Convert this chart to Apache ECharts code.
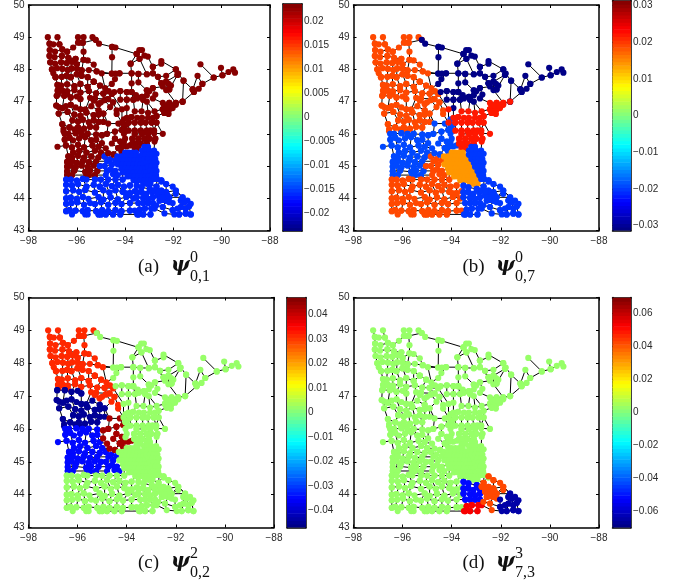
<!DOCTYPE html>
<html><head><meta charset="utf-8">
<style>html,body{margin:0;padding:0;background:#fff}#c{width:677px;height:588px}</style>
<script src="https://cdn.jsdelivr.net/npm/echarts@6/dist/echarts.min.js"></script>
</head><body><div id="c"></div>
<script>
// Road polylines: flat lon,lat lists, one list per road. Vertices are the network's nodes.
const nwRoads = [
[-97.2,49,-97.13,48.8,-97.12,48.6,-97.13,48.42,-97.1,48.22,-97.03,48,-96.97,47.88,-96.88,47.76],
[-96.8,49,-96.72,48.78,-96.6,48.62,-96.62,48.42,-96.65,48.22,-96.6,48.02,-96.62,47.77,-96.65,47.5,-96.6,47.34],
[-97.13,48.8,-96.97,48.78,-96.72,48.78],
[-97.12,48.6,-96.9,48.55,-96.6,48.62,-96.4,48.55,-96.15,48.68,-95.95,48.83,-95.95,49],
[-97.13,48.42,-96.92,48.38,-96.62,48.42,-96.35,48.36,-96.05,48.33],
[-97.1,48.22,-96.9,48.18,-96.65,48.22,-96.42,48.2,-96.2,48.24,-96,48.16,-95.72,48.3,-95.55,48.28,-95.3,48.15,-95.18,47.94,-94.97,47.88],
[-97.03,48,-96.82,48.04,-96.6,48.02,-96.38,47.98,-96.22,48.03,-96,48.02,-95.8,47.97,-95.5,47.98,-95.18,47.94],
[-96.88,47.76,-96.62,47.77,-96.42,47.8,-96.25,47.76,-96,47.85,-95.8,47.8,-95.55,47.76,-95.3,47.62],
[-96.42,47.8,-96.38,47.98,-96.42,48.2,-96.35,48.36,-96.4,48.55],
[-96.25,47.76,-96.22,48.03,-96.2,48.24,-96.05,48.33],
[-96,47.85,-96,48.16,-95.8,47.97],
[-95.8,47.8,-95.8,47.97,-95.72,48.3,-95.72,48.55,-95.75,48.83,-95.72,49],
[-95.35,49,-95.22,48.92,-95.75,48.83,-95.87,48.83],
[-96.8,47.52,-96.65,47.5,-96.4,47.54,-96.1,47.48,-95.85,47.55,-95.55,47.46,-95.3,47.62],
[-96.88,47.76,-96.8,47.52,-96.8,47.34,-96.78,47.24],
[-96.42,47.8,-96.4,47.54,-96.4,47.32,-96.4,47.24],
[-96.78,47.34,-96.6,47.34,-96.4,47.32,-96.1,47.36,-95.85,47.28,-95.5,47.33,-95.2,47.26,-94.9,47.25,-94.55,47.24],
[-96.25,47.76,-96.1,47.48,-96.1,47.36],
[-96,47.85,-95.85,47.55,-95.85,47.28],
[-95.55,47.76,-95.55,47.46,-95.5,47.33,-95.45,47.12],
[-95.3,47.62,-95.04,47.5,-94.83,47.42,-94.68,47.33,-94.55,47.24],
[-95.04,47.5,-95.2,47.26,-95.25,47.1,-95.3,47.03,-95.1,46.93,-95,46.98],
[-94.9,47.25,-94.7,47.08,-94.5,46.98,-94.35,46.73,-94.35,46.62],
[-94.7,47.08,-95.25,47.1],
[-94.85,47.05,-94.62,46.83,-94.5,46.98],
[-95.1,46.93,-94.85,47.05,-94.9,47.25]
];
const wnRoads = [
[-96.83,47.18,-96.85,46.88,-96.75,46.83,-96.75,46.63,-96.6,46.3,-96.55,46.15,-96.55,46.08],
[-96.83,47.18,-96.52,47.18,-96.25,47.13,-96,47.16,-95.85,47.08],
[-96.85,46.88,-96.6,46.8,-96.45,46.86,-96.25,46.9,-96.05,46.82,-95.85,46.76,-95.65,46.75,-95.4,46.86,-95.1,46.73],
[-96.75,46.63,-96.38,46.68,-96.1,46.6,-95.85,46.56,-95.6,46.66,-95.3,46.58,-95.1,46.6,-94.9,46.63],
[-96.52,47.18,-96.6,46.8,-96.38,46.68,-96.18,46.42,-96.3,46.2],
[-96.25,47.13,-96.25,46.9,-96.1,46.6,-95.95,46.38,-95.95,46.2],
[-95.85,47.08,-95.85,46.76,-95.85,46.56,-95.75,46.44,-95.7,46.16],
[-95.65,46.75,-95.6,46.66,-95.5,46.36,-95.45,46.22],
[-95.3,46.58,-95.3,46.42,-95.2,46.2],
[-95.1,46.73,-95.1,46.6,-95.1,46.37,-94.9,46.37,-94.9,46.63],
[-96.6,46.3,-96.3,46.2,-96.18,46.42,-95.95,46.38,-95.75,46.44,-95.5,46.36,-95.3,46.42,-95.1,46.37],
[-96.3,46.2,-96.1,46.14,-95.95,46.2,-95.9,46.08,-95.7,46.16,-95.45,46.22,-95.2,46.2]
];
const wbRoads = [
[-96.5,46,-96.35,46,-96.05,46.02,-95.8,46,-95.55,46,-95.2,45.98],
[-96.5,45.82,-96.3,45.88,-96.15,45.8,-95.9,45.86,-95.65,45.9,-95.4,45.8,-95.2,45.82],
[-96.8,45.6,-96.45,45.64,-96.2,45.58,-95.95,45.66,-95.7,45.58,-95.35,45.64,-95.1,45.6],
[-96.15,45.42,-95.9,45.47,-95.6,45.42,-95.25,45.48,-95,45.42],
[-96.35,45.3,-96.2,45.26,-95.95,45.32,-95.7,45.26,-95.4,45.3,-95.1,45.27,-94.85,45.3],
[-96.4,45.13,-96.2,45.16,-96,45.1,-95.75,45.16,-95.5,45.12,-95.2,45.15],
[-96.4,44.98,-96.25,45.02,-96.05,44.96,-95.8,45.02,-95.55,44.97,-95.3,45.02,-95.05,45],
[-96.4,44.84,-96.1,44.86,-95.65,44.82,-95.45,44.86,-95.15,44.85],
[-96.4,44.72,-96.2,44.72,-95.6,44.72,-95.5,44.72,-95.25,44.72],
[-96.5,46,-96.5,45.82,-96.45,45.64,-96.35,45.3,-96.4,45.13,-96.4,44.98,-96.4,44.84,-96.4,44.72],
[-96.35,46,-96.3,45.88,-96.2,45.58,-96.15,45.42,-96.2,45.26,-96.2,45.16,-96.25,45.02,-96.2,44.72],
[-96.05,46.02,-95.9,45.86,-95.95,45.66,-95.9,45.47,-95.95,45.32,-96,45.1,-96.05,44.96,-96.1,44.86],
[-95.8,46,-95.65,45.9,-95.7,45.58,-95.6,45.42,-95.7,45.26,-95.75,45.16,-95.8,45.02,-95.65,44.82,-95.6,44.72],
[-95.55,46,-95.4,45.8,-95.35,45.64,-95.25,45.48,-95.4,45.3,-95.5,45.12,-95.55,44.97,-95.45,44.86,-95.5,44.72],
[-95.2,45.98,-95.2,45.82,-95.1,45.6,-95,45.42,-95.1,45.27,-95.2,45.15,-95.3,45.02,-95.15,44.85,-95.25,44.72]
];
const wbsRoads = [
[-94.85,45.3,-94.75,45.15,-94.85,45,-94.75,44.85,-94.8,44.72],
[-94.62,45.22,-94.55,45.05,-94.6,44.9,-94.5,44.75],
[-95.05,45,-94.85,45,-94.55,45.05,-94.4,45.18],
[-94.75,44.85,-94.6,44.9,-94.4,44.85,-94.3,44.72]
];
const cenRoads = [
[-94.96,45.96,-94.96,45.71,-94.8,45.55,-94.7,45.4,-94.48,45.36],
[-94.96,45.96,-94.75,46,-94.42,46.07,-94.42,45.85,-94.2,45.76,-94.28,45.56,-94.48,45.36],
[-94.75,46,-94.7,46.32,-94.28,46.32,-94.15,46.12,-94.42,46.07],
[-94.42,45.85,-94.55,45.7,-94.28,45.56,-94.1,45.62,-93.94,45.61,-93.8,45.64],
[-94.2,45.76,-94.1,45.62,-94.15,45.45,-94.28,45.56]
];
const bgRoads = [
[-94.05,46.45,-94.05,46.2,-94.05,46,-94,45.85,-94.05,45.75],
[-94.05,46.2,-93.95,46.28,-93.95,46.1]
];
const neRoads = [
[-95.22,48.92,-95.08,48.8,-94.54,48.7,-94.4,48.68,-93.52,48.48,-93.41,48.6,-93.3,48.6,-93.2,48.43,-93.06,48.4,-92.85,48.08],
[-94.54,48.7,-94.54,48.38,-94.55,47.87],
[-93.52,48.48,-93.77,48.18,-93.73,47.88,-93.73,47.57,-93.73,47.3],
[-93.4,48.33,-93.77,48.18],
[-93.52,48.48,-93.4,48.33,-93.1,47.85],
[-92.85,48.08,-92.5,48.18,-92.5,48.26,-91.9,48,-91.8,47.87,-91.58,47.65,-91.62,47],
[-94.55,47.87,-94.4,47.87,-94.23,47.88,-93.73,47.88,-93.45,47.86,-93.1,47.85,-92.85,47.88,-92.64,47.77,-92.3,47.8,-91.9,48],
[-94.23,47.88,-94.42,47.7,-94.55,47.55],
[-92.85,48.08,-92.85,47.88,-92.5,47.57,-92.44,47.47,-92.85,47.42,-93.1,47.35,-93,47.32],
[-91.83,47.83,-92.3,47.62,-92.3,47.36,-92.17,47.38,-91.83,47.83],
[-92.5,47.57,-92.3,47.62,-92.2,47.55,-92.1,47.5,-92.17,47.38],
[-92.64,47.77,-92.5,47.57],
[-93.45,47.86,-93.45,47.6,-93.1,47.35],
[-91.58,47.65,-91.2,47.38,-91,47.8,-90.8,47.55,-90.95,47.4,-91.2,47.38],
[-90.88,48.16,-90.33,47.75,-90.8,47.55],
[-90.33,47.75,-89.97,47.82,-89.72,47.92,-89.52,48,-89.45,47.9],
[-90.03,48.05,-89.97,47.82],
[-91.15,47.3,-91.2,47.38],
[-91.15,47.3,-91.62,47],
[-94.45,47.3,-94.2,47.33,-93.93,47.3,-93.73,47.3,-93.55,47.2,-93.3,47.15,-93.1,47.2],
[-94.2,47.33,-94.2,47.06,-93.93,47.06,-93.66,47.06,-93.5,47.1,-93.25,47.06,-93.1,47],
[-93.93,47.3,-93.93,47.06,-93.93,46.8],
[-93.73,47.3,-93.66,47.06],
[-93.25,47.06,-93.3,47.15],
[-92.85,47.42,-92.75,47.22,-92.85,47.1]
];
const eastRoads = [
[-94.13,46.76,-94.13,46.35,-93.85,46.35,-93.6,46.35,-93.35,46.35,-93.15,46.35,-92.9,46.35,-92.7,46.35],
[-93.93,46.5,-93.75,46.52,-93.5,46.5,-93.3,46.5,-93.05,46.5,-92.85,46.5,-92.7,46.55,-92.37,46.65],
[-93.73,46.52,-93.6,46.7,-93.32,46.7,-93.05,46.65,-92.78,46.7,-92.44,46.76,-92.44,46.96,-92.17,46.96,-91.9,46.96,-91.62,47],
[-92.44,46.76,-92.3,46.8,-92.17,46.76,-92.23,46.7,-92.37,46.65,-92.44,46.76],
[-92.17,46.76,-92.03,46.8,-91.9,46.9,-91.9,46.96],
[-92.3,46.8,-92.17,46.96],
[-92.3,46.7,-92.2,46.62,-92.37,46.65],
[-92.38,46.88,-92.25,46.88,-92.1,46.88],
[-93.85,46.35,-93.85,46.1,-93.6,46.1,-93.35,46.1,-93.1,46.1,-92.95,46.1,-92.8,46.1],
[-93.6,46.35,-93.6,46.1,-93.6,46,-93.7,45.85,-93.7,45.7,-93.6,45.55],
[-93.35,46.35,-93.35,46.1,-93.3,46,-93.45,45.85,-93.55,45.7,-93.45,45.55],
[-93.15,46.35,-93.1,46.1,-93.05,46,-93.2,45.85,-93.35,45.7],
[-92.95,46.1,-93,45.85,-93.1,45.7],
[-92.9,46.35,-92.8,46.1,-92.75,45.85,-92.78,45.76],
[-92.7,46.35,-92.7,46.55],
[-93.6,46,-93.3,46,-93.05,46],
[-92.8,46.02,-92.44,46],
[-93.7,45.85,-93.45,45.85,-93.2,45.85,-93,45.85,-92.75,45.85],
[-93.7,45.7,-93.55,45.7,-93.35,45.7,-93.1,45.7]
];
const swRoads = [
[-96.44,44.58,-96.25,44.58,-96,44.55,-95.75,44.6,-95.6,44.58,-95.25,44.58,-95,44.58,-94.7,44.58,-94.4,44.58,-94.1,44.58],
[-96.44,44.42,-96.2,44.4,-95.95,44.44,-95.6,44.36,-95.3,44.42,-95.05,44.36,-94.8,44.44,-94.55,44.38,-94.3,44.42,-94.05,44.36,-93.8,44.4],
[-96.44,44.22,-96.15,44.25,-95.9,44.2,-95.65,44.26,-95.25,44.18,-94.9,44.25,-94.65,44.18,-94.4,44.25,-94.1,44.2,-93.8,44.16,-93.6,44.22],
[-96.44,44,-96.25,44.02,-96,43.98,-95.75,44.04,-95.52,43.98,-95.1,44.04,-94.9,43.96,-94.6,44.03,-94.3,43.97,-93.95,44.04,-93.65,44],
[-96.44,43.83,-96.22,43.85,-95.98,43.88,-95.7,43.8,-95.45,43.85,-95.25,43.82,-95,43.88,-94.7,43.8,-94.4,43.86,-94.15,43.82,-93.8,43.85],
[-96.44,43.6,-96.3,43.63,-96.05,43.62,-95.75,43.6,-95.55,43.63,-95.2,43.6,-94.95,43.63,-94.7,43.6,-94.4,43.63,-94.15,43.6,-93.8,43.62,-93.6,43.62],
[-96.2,43.5,-96.3,43.63],
[-95.65,43.5,-95.55,43.5,-95.55,43.63],
[-95.1,43.5,-95,43.5,-94.8,43.5,-94.5,43.5,-94.2,43.5],
[-96.44,44.58,-96.44,44.42,-96.44,44.22,-96.44,44,-96.44,43.83,-96.44,43.6],
[-96.25,44.58,-96.2,44.4,-96.15,44.25,-96.25,44.02,-96.22,43.85,-96.3,43.63],
[-96,44.55,-95.95,44.44,-95.9,44.2,-96,43.98,-95.98,43.88,-96.05,43.62],
[-95.75,44.6,-95.6,44.36,-95.65,44.26,-95.75,44.04,-95.7,43.8,-95.75,43.6],
[-95.25,44.58,-95.3,44.42,-95.25,44.18,-95.1,44.04,-95.25,43.82,-95.2,43.6,-95.1,43.5],
[-95,44.58,-95.05,44.36,-94.9,44.25,-94.9,43.96,-95,43.88,-94.95,43.63,-95,43.5],
[-94.7,44.58,-94.8,44.44,-94.65,44.18,-94.6,44.03,-94.7,43.8,-94.7,43.6,-94.8,43.5],
[-94.4,44.58,-94.55,44.38,-94.4,44.25,-94.3,43.97,-94.4,43.86,-94.4,43.63,-94.5,43.5],
[-94.1,44.58,-94.3,44.42,-94.1,44.2,-93.95,44.04,-94.15,43.82,-94.15,43.6,-94.2,43.5],
[-93.8,44.4,-93.8,44.16,-93.65,44,-93.8,43.85,-93.8,43.62],
[-94.05,44.36,-93.98,44.16,-93.85,44.12]
];
const metroWRoads = [
[-94,45.42,-93.85,45.42,-93.7,45.42,-93.55,45.42],
[-94.32,45.3,-94.15,45.3,-94,45.3,-93.85,45.3,-93.7,45.3,-93.55,45.3,-93.42,45.3],
[-94.2,45.18,-94.05,45.18,-93.9,45.18,-93.75,45.18,-93.6,45.18,-93.45,45.18,-93.33,45.18],
[-94.3,45.05,-94.1,45.05,-93.95,45.05,-93.8,45.05,-93.65,45.05,-93.5,45.05,-93.35,45.05,-93.25,45.05],
[-94.15,44.92,-94,44.92,-93.85,44.92,-93.7,44.92,-93.55,44.92,-93.4,44.92,-93.27,44.92,-93.17,44.92],
[-94.1,44.8,-93.95,44.8,-93.8,44.8,-93.65,44.8,-93.5,44.8,-93.35,44.8,-93.2,44.8,-93.1,44.8],
[-93.9,44.68,-93.75,44.68,-93.6,44.68,-93.45,44.68,-93.3,44.68,-93.15,44.68,-93.02,44.68],
[-93.65,44.56,-93.5,44.56,-93.35,44.56,-93.2,44.56,-93.05,44.56,-92.92,44.56],
[-93.25,44.45,-93.1,44.45,-92.95,44.45]
];
const metroERoads = [
[-93.2,45.6,-93.05,45.6],
[-93.3,45.48,-93.15,45.48,-93,45.48,-92.8,45.48],
[-93.3,45.35,-93.15,45.35,-93,45.35,-92.85,45.35,-92.7,45.38],
[-93.2,45.22,-93.05,45.22,-92.9,45.22,-92.75,45.22],
[-93.1,45.1,-92.95,45.1,-92.8,45.1,-92.7,45.1],
[-93.05,44.98,-92.9,44.98,-92.75,44.98],
[-92.95,44.85,-92.82,44.85,-92.7,44.85],
[-92.88,44.72,-92.72,44.72],
[-92.8,44.6,-92.68,44.6,-92.5,44.52]
];
const seBlueRoads = [
[-93.52,44.39,-93.32,44.34,-92.98,44.29],
[-93.52,44.19,-93.32,44.19,-93.12,44.14,-92.87,44.19],
[-93.52,44.03,-93.25,44.01,-93.05,43.98,-92.85,44.03],
[-93.45,43.85,-93.25,43.85,-93.05,43.85,-92.85,43.85],
[-93.52,44.39,-93.52,44.19,-93.52,44.03,-93.45,43.85],
[-93.32,44.34,-93.32,44.19,-93.25,44.01,-93.25,43.85],
[-92.98,44.29,-93.12,44.14,-93.05,43.98,-93.05,43.85],
[-92.87,44.19,-92.85,44.03,-92.85,43.85]
];
const seRedRoads = [
[-93.39,43.65,-93.18,43.68,-92.91,43.68,-92.78,43.68],
[-93.5,43.5,-93.45,43.5,-93.25,43.5,-92.95,43.5],
[-93.45,43.5,-93.39,43.65],
[-93.25,43.5,-93.18,43.68],
[-92.95,43.5,-92.91,43.68]
];
const seOrangeRoads = [
[-92.5,44.56,-92.3,44.44,-92.03,44.36,-91.9,44.24,-92.17,44.03,-91.9,44.14],
[-92.7,44.36,-92.5,44.56],
[-92.7,44.36,-92.78,44.24,-92.5,44.24,-92.3,44.19,-91.9,44.24],
[-92.3,44.44,-92.3,44.19,-92.44,44.14,-92.64,44.09,-92.78,44.24],
[-92.64,44.09,-92.57,43.93,-92.3,43.93,-92.17,44.03],
[-92.57,43.93,-92.71,43.78,-92.44,43.73,-92.3,43.93,-92.17,43.88],
[-92.44,43.73,-92.37,43.53],
[-92.5,44.24,-92.44,44.14,-92.3,43.93],
[-92.62,44.22,-92.55,44.02,-92.45,43.95],
[-92.36,44.08,-92.25,44.1,-92.45,44.02]
];
const seNavyRoads = [
[-91.62,44.03,-91.69,43.93,-91.69,43.73,-91.76,43.5],
[-91.62,44.03,-91.55,43.88,-91.42,43.93,-91.28,43.83,-91.35,43.75,-91.49,43.68,-91.49,43.53],
[-91.69,43.93,-91.55,43.88,-91.49,43.68,-91.69,43.73,-91.83,43.68,-92.03,43.63,-91.96,43.5,-91.76,43.5,-91.49,43.53],
[-92.03,43.85,-92.03,43.63],
[-91.35,43.75,-91.28,43.5],
[-91.49,43.53,-91.28,43.5]
];
// Roads that only join regions: lines with no nodes of their own.
const bridgeRoads = [
[-96.78,47.24,-96.83,47.18],[-96.4,47.24,-96.52,47.18],[-96.1,47.36,-96.25,47.13],[-95.85,47.28,-95.85,47.08],
[-95.45,47.12,-95.65,46.75],[-95.3,47.03,-95.4,46.86],[-95,46.98,-95.1,46.73],[-94.62,46.83,-94.9,46.63],
[-96.55,46.08,-96.5,46],[-96.3,46.2,-96.35,46],[-95.9,46.08,-96.05,46.02],[-95.9,46.08,-95.8,46],[-95.45,46.22,-95.55,46],[-95.2,46.2,-95.2,45.98],
[-94.9,46.37,-94.7,46.32],[-94.28,46.32,-94.13,46.35],[-94.28,46.32,-94.05,46.45],[-94.05,46.2,-94.15,46.12],[-93.95,46.1,-93.85,46.1],
[-95.2,45.98,-94.96,45.96],[-95.2,45.82,-94.96,45.71],[-95.1,45.6,-94.8,45.55],[-95,45.42,-94.7,45.4],[-94.85,45.3,-94.7,45.4],
[-94.85,45.3,-94.62,45.22],[-95.2,45.15,-94.75,45.15],[-95.15,44.85,-94.75,44.85],[-95.25,44.72,-94.8,44.72],
[-96.4,44.72,-96.44,44.58],[-96.2,44.72,-96.25,44.58],[-95.6,44.72,-95.6,44.58],[-95.5,44.72,-95.25,44.58],[-95.25,44.72,-95,44.58],[-94.8,44.72,-94.7,44.58],[-94.5,44.75,-94.4,44.58],[-94.3,44.72,-94.1,44.58],
[-94.48,45.36,-94.32,45.3],[-94.15,45.45,-94,45.42],[-93.8,45.64,-93.7,45.7],[-93.6,45.55,-93.55,45.42],[-93.45,45.55,-93.3,45.48],[-93.35,45.7,-93.2,45.6],[-93.1,45.7,-93.05,45.6],[-92.78,45.76,-92.8,45.48],
[-94.4,45.18,-94.3,45.05],[-94.4,44.85,-94.15,44.92],[-94.1,44.8,-94.1,44.58],[-93.9,44.68,-94.1,44.58],[-93.65,44.56,-93.8,44.4],[-93.65,44.56,-93.52,44.39],
[-93.05,44.56,-92.98,44.29],[-92.95,44.45,-92.7,44.36],[-92.5,44.52,-92.5,44.56],[-92.68,44.6,-92.7,44.36],[-92.5,44.52,-92.3,44.44],
[-93.6,44.22,-93.52,44.19],[-93.65,44,-93.52,44.03],[-93.8,43.85,-93.45,43.85],[-93.6,43.62,-93.39,43.65],[-93.6,43.62,-93.5,43.5],[-94.2,43.5,-93.5,43.5],
[-92.87,44.19,-92.78,44.24],[-92.85,44.03,-92.64,44.09],[-92.85,43.85,-92.71,43.78],[-92.78,43.68,-92.71,43.78],[-92.78,43.68,-92.37,43.53],[-92.37,43.53,-91.96,43.5],[-92.17,43.88,-92.03,43.85],[-92.17,44.03,-91.62,44.03],
[-93.45,43.85,-93.39,43.65],[-93.25,43.85,-93.18,43.68],[-93.05,43.85,-92.91,43.68],[-91.9,44.24,-91.62,44.03],[-92.03,44.36,-91.62,44.03],[-92.44,43.73,-92.03,43.63],
[-93.93,46.8,-93.93,46.5],[-93.93,46.8,-94.13,46.76],[-93.1,47,-93.05,46.65],[-93.25,47.06,-93.32,46.7],[-93.66,47.06,-93.6,46.7],[-92.85,47.1,-92.44,46.96],[-93.1,47,-92.78,46.7],[-92.3,47.36,-91.9,46.96],
[-94.55,47.24,-94.45,47.3],[-94.55,47.24,-94.13,46.76],[-94.35,46.73,-94.13,46.76],[-94.55,47.55,-94.83,47.42],[-94.55,47.87,-94.97,47.88],[-94.97,47.88,-94.83,47.42],[-95.18,47.94,-94.54,47.87],
[-94.7,46.32,-94.9,46.63],[-94.35,46.62,-94.13,46.35],[-92.7,46.35,-92.44,46],[-92.8,46.1,-92.7,46.35]
];
const clusterRoads = [nwRoads,wnRoads,wbRoads,wbsRoads,cenRoads,bgRoads,neRoads,eastRoads,swRoads,metroWRoads,metroERoads,seBlueRoads,seRedRoads,seOrangeRoads,seNavyRoads];
// One value per region, same order as clusterRoads.
const valuesA = [0.0236,0.0236,0.0236,-0.0155,0.0236,0.0236,0.0236,0.0236,-0.0155,-0.0155,-0.0155,-0.0155,-0.0155,-0.0155,-0.0155];
const valuesB = [0.0186,0.0186,-0.0188,0.0186,-0.0188,-0.0188,-0.0305,0.0219,0.0186,0.0137,-0.0197,-0.0197,-0.0197,-0.0197,-0.0197];
const valuesC = [0.031,-0.0442,-0.0338,-0.0338,0.044,0.0019,0.0019,0.0019,0.0019,0.0019,0.0019,0.0019,0.0019,0.0019,0.0019];
const valuesD = [0.0035,0.0035,0.0035,0.0035,0.0035,0.0035,0.0035,0.0035,0.0035,0.0035,0.0035,-0.0516,0.0523,0.0432,-0.065];
const barTicksA = [-0.02,-0.015,-0.01,-0.005,0,0.005,0.01,0.015,0.02];
const barTicksB = [-0.03,-0.02,-0.01,0,0.01,0.02,0.03];
const barTicksC = [-0.04,-0.03,-0.02,-0.01,0,0.01,0.02,0.03,0.04];
const barTicksD = [-0.06,-0.04,-0.02,0,0.02,0.04,0.06];
const panels = [
 {values:valuesA,ticks:barTicksA,M:0.0236,grid:[28.5,4,241.5,226.5],bar:[283,4,19,227],label:'(a)',sup:'0',sub:'0,1',cx:138,psi:171,si:190,base:273,subY:282,supY:259},
 {values:valuesB,ticks:barTicksB,M:0.0313,grid:[353.5,0.5,245.5,230],bar:[612.5,0.5,18.5,230],label:'(b)',sup:'0',sub:'0,7',cx:462.5,psi:496,si:515,base:273,subY:282,supY:259},
 {values:valuesC,ticks:barTicksC,M:0.047,grid:[28.5,297.5,245.5,230],bar:[287,297.5,19,230],label:'(c)',sup:'2',sub:'0,2',cx:138,psi:171,si:190,base:569,subY:578,supY:555},
 {values:valuesD,ticks:barTicksD,M:0.0697,grid:[353.5,297.5,245.5,230],bar:[612.5,297.5,18.5,230],label:'(d)',sup:'3',sub:'7,3',cx:462.5,psi:496,si:515,base:569,subY:578,supY:555}
];
// MATLAB jet palette with 64 levels
const jet = [];
for(let i=0;i<64;i++){const t=(i+0.5)/64;const c=v=>Math.round(255*Math.max(0,Math.min(1,v)));
 jet.push(`rgb(${c(1.5-Math.abs(4*t-3))},${c(1.5-Math.abs(4*t-2))},${c(1.5-Math.abs(4*t-1))})`);}
const colorOf=(v,M)=>jet[Math.max(0,Math.min(63,Math.floor((v+M)/(2*M)*64)))];
const fmt=v=>String(v).replace('-','\u2212');
const labelStyle={color:'#2a2a2a',fontSize:10,fontFamily:'"Liberation Sans",Arial,sans-serif'};
const lineAx={show:true,onZero:false,lineStyle:{color:'#000',width:1.5}};
const xAxes=[],yAxes=[],grids=[],series=[],graphics=[];
panels.forEach(p=>{
 const g=grids.length;
 grids.push({left:p.grid[0],top:p.grid[1],width:p.grid[2],height:p.grid[3]});
 const xi=xAxes.length, yi=yAxes.length;
 xAxes.push({gridIndex:g,type:'value',min:-98,max:-88,interval:2,position:'bottom',splitLine:{show:false},axisLine:lineAx,
  axisTick:{inside:true,length:3,lineStyle:{color:'#000'}},axisLabel:{...labelStyle,margin:6,formatter:fmt,showMinLabel:true,showMaxLabel:true}});
 xAxes.push({gridIndex:g,type:'value',min:-98,max:-88,interval:2,position:'top',splitLine:{show:false},axisLine:lineAx,
  axisTick:{inside:true,length:3,lineStyle:{color:'#000'}},axisLabel:{show:false}});
 yAxes.push({gridIndex:g,type:'value',min:43,max:50,interval:1,position:'left',splitLine:{show:false},axisLine:lineAx,
  axisTick:{inside:true,length:3,lineStyle:{color:'#000'}},axisLabel:{...labelStyle,margin:4,showMinLabel:true,showMaxLabel:true}});
 yAxes.push({gridIndex:g,type:'value',min:43,max:50,interval:1,position:'right',splitLine:{show:false},axisLine:lineAx,
  axisTick:{inside:true,length:3,lineStyle:{color:'#000'}},axisLabel:{show:false}});
 const lineData=[];
 clusterRoads.forEach(roads=>roads.forEach(r=>{const c=[];for(let i=0;i<r.length;i+=2)c.push([r[i],r[i+1]]);lineData.push({coords:c});}));
 bridgeRoads.forEach(r=>lineData.push({coords:[[r[0],r[1]],[r[2],r[3]]]}));
 series.push({type:'lines',coordinateSystem:'cartesian2d',polyline:true,xAxisIndex:xi,yAxisIndex:yi,silent:true,z:2,
  lineStyle:{color:'#000',width:1,opacity:1},data:lineData});
 const pts=[];
 clusterRoads.forEach((roads,k)=>roads.forEach(r=>{for(let i=0;i<r.length;i+=2)pts.push([r[i],r[i+1],p.values[k]]);}));
 series.push({type:'scatter',xAxisIndex:xi,yAxisIndex:yi,silent:true,z:3,symbolSize:6.2,
  itemStyle:{color:q=>colorOf(q.value[2],p.M),opacity:1},data:pts});
 // colourbar
 const bg=grids.length;
 grids.push({left:p.bar[0],top:p.bar[1],width:p.bar[2],height:p.bar[3]});
 const bx=xAxes.length, by=yAxes.length;
 xAxes.push({gridIndex:bg,type:'value',min:0,max:1,position:'bottom',splitLine:{show:false},axisLine:lineAx,axisTick:{show:false},axisLabel:{show:false}});
 xAxes.push({gridIndex:bg,type:'value',min:0,max:1,position:'top',splitLine:{show:false},axisLine:lineAx,axisTick:{show:false},axisLabel:{show:false}});
 yAxes.push({gridIndex:bg,type:'value',min:-p.M,max:p.M,position:'right',splitLine:{show:false},axisLine:lineAx,
  axisTick:{inside:true,length:2,customValues:p.ticks,lineStyle:{color:'#000'}},axisLabel:{...labelStyle,margin:2,customValues:p.ticks,formatter:fmt}});
 yAxes.push({gridIndex:bg,type:'value',min:-p.M,max:p.M,position:'left',splitLine:{show:false},axisLine:lineAx,
  axisTick:{inside:true,length:2,customValues:p.ticks,lineStyle:{color:'#000'}},axisLabel:{show:false}});
 series.push({type:'custom',xAxisIndex:bx,yAxisIndex:by,silent:true,z:1,clip:true,
  data:jet.map((_,i)=>[i,-p.M+2*p.M*i/64,-p.M+2*p.M*(i+1)/64]),
  encode:{x:[],y:[1,2]},
  renderItem:(params,api)=>{const a=api.coord([0,api.value(1)]),b=api.coord([1,api.value(2)]);
   return {type:'rect',shape:{x:a[0],y:b[1],width:b[0]-a[0],height:a[1]-b[1]+0.6},style:{fill:jet[api.value(0)]}};}});
 const serif='"Liberation Serif","Times New Roman",serif';
 const T=(x,y,text,font)=>graphics.push({type:'text',left:x,top:y,silent:true,style:{text,font,fill:'#111'}});
 T(p.cx,p.base-15,p.label,`19px ${serif}`);
 T(p.psi,p.base-17,'\u03C8',`italic bold 20px "DejaVu Serif",serif`);
 T(p.si,p.supY-9,p.sup,`16px ${serif}`);
 T(p.si,p.subY-13,p.sub,`16px ${serif}`);
});
const chart=echarts.init(document.getElementById('c'),null,{renderer:'canvas'});
chart.setOption({animation:false,grid:grids,xAxis:xAxes,yAxis:yAxes,series,graphic:{elements:graphics}});
</script></body></html>
